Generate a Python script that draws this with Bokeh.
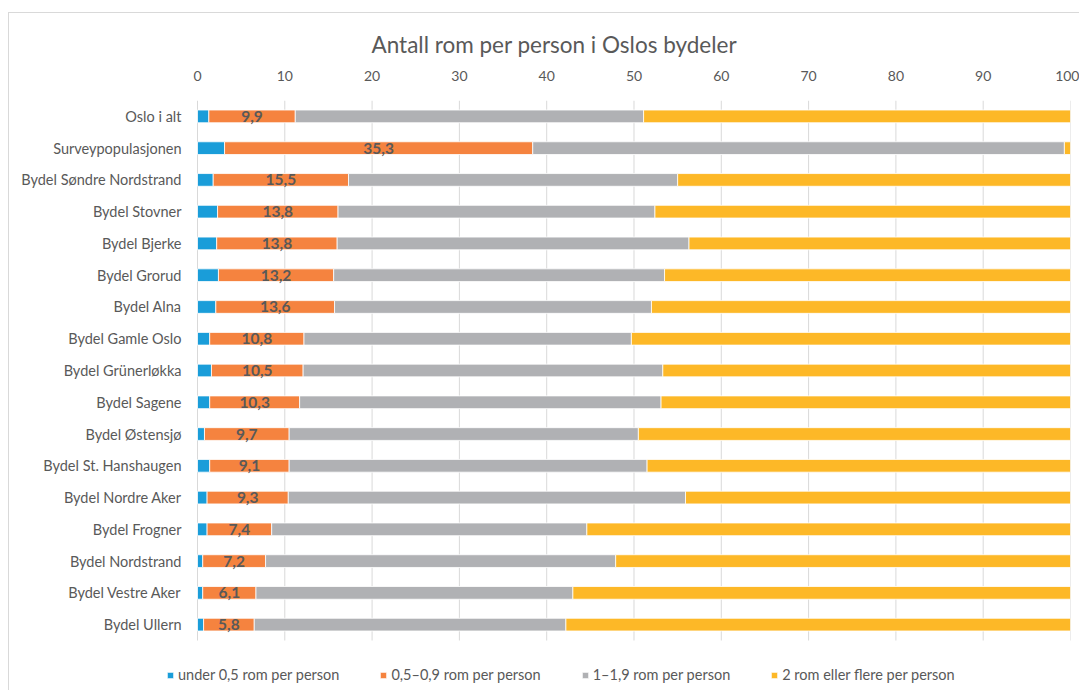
from bokeh.plotting import figure
from bokeh.models import ColumnDataSource, Range1d, Legend, LegendItem, LabelSet, FixedTicker
from bokeh.embed import file_html
from bokeh.resources import INLINE
from bokeh.core.properties import value

categories = ["Oslo i alt", "Surveypopulasjonen", "Bydel Søndre Nordstrand", "Bydel Stovner",
              "Bydel Bjerke", "Bydel Grorud", "Bydel Alna", "Bydel Gamle Oslo",
              "Bydel Grünerløkka", "Bydel Sagene", "Bydel Østensjø", "Bydel St. Hanshaugen",
              "Bydel Nordre Aker", "Bydel Frogner", "Bydel Nordstrand", "Bydel Vestre Aker",
              "Bydel Ullern"]
under_05 = [1.3, 3.1, 1.8, 2.3, 2.2, 2.4, 2.1, 1.4, 1.6, 1.4, 0.8, 1.4, 1.1, 1.1, 0.6, 0.6, 0.7]
r05_09 = [9.9, 35.3, 15.5, 13.8, 13.8, 13.2, 13.6, 10.8, 10.5, 10.3, 9.7, 9.1, 9.3, 7.4, 7.2, 6.1, 5.8]
r1_19 = [39.9, 60.9, 37.7, 36.3, 40.3, 37.9, 36.3, 37.5, 41.2, 41.4, 40.0, 41.0, 45.5, 36.1, 40.1, 36.3, 35.7]
r2_plus = [round(100 - a - b - c, 1) for a, b, c in zip(under_05, r05_09, r1_19)]
label_texts = [f"{v:.1f}".replace(".", ",") for v in r05_09]
series_names = ["under 0,5 rom per person", "0,5–0,9 rom per person", "1–1,9 rom per person", "2 rom eller flere per person"]
colors = ["#1A9DD9", "#F5833F", "#B0B1B4", "#FDB827"]
x_ticks = [0, 10, 20, 30, 40, 50, 60, 70, 80, 90, 100]

n = len(categories)
ypos = [n - 1 - i for i in range(n)]   # first category at the top

keys = ["s0", "s1", "s2", "s3"]
src = ColumnDataSource(dict(
    cat=categories, y=ypos, s0=under_05, s1=r05_09, s2=r1_19, s3=r2_plus,
    lx=[a + b / 2 for a, b in zip(under_05, r05_09)], lab=label_texts,
))

FONT = "Lato"
TXT = "#595959"

# frame extends left of 0 and below the last bar so the legend can live inside it
p = figure(width=1071, height=678, output_backend="svg", toolbar_location=None,
           x_range=Range1d(-4.81, 100), y_range=Range1d(-2.105, n - 0.5),
           x_axis_location="above", min_border_left=146, min_border_right=10,
           min_border_top=87, min_border_bottom=0)
p.styles = {"border-top": "1px solid #d9d9d9", "border-left": "1px solid #d9d9d9",
            "margin-left": "8px", "margin-top": "12px"}

# vertical gridlines spanning only the category band
p.segment(x0=x_ticks, x1=x_ticks, y0=[-0.5] * len(x_ticks), y1=[n - 0.5] * len(x_ticks),
          line_color="#d9d9d9", line_width=1)

renderers = p.hbar_stack(keys, y="y", height=0.4, color=colors, source=src,
                         line_color="white", line_width=0.8)

p.add_layout(LabelSet(x="lx", y="y", text="lab", source=src, text_align="center",
                      text_baseline="middle", text_font=value(FONT), text_font_style="bold",
                      text_font_size="15.5px", text_color=TXT))

p.title.text = "Antall rom per person i Oslos bydeler"
p.title.align = "left"
p.title.offset = 216
p.title.standoff = 19
p.title.text_font = FONT
p.title.text_font_size = "22.5px"
p.title.text_font_style = "normal"
p.title.text_color = TXT

xa = p.xaxis[0]
xa.ticker = FixedTicker(ticks=x_ticks)
xa.axis_line_color = None
xa.major_tick_line_color = None
xa.minor_tick_line_color = None
xa.major_label_standoff = 14
xa.major_label_text_font = FONT
xa.major_label_text_font_size = "14px"
xa.major_label_text_color = TXT

ya = p.yaxis[0]
ya.ticker = FixedTicker(ticks=ypos)
ya.major_label_overrides = {y: c for y, c in zip(ypos, categories)}
ya.axis_line_color = None
ya.major_tick_line_color = None
ya.minor_tick_line_color = None
ya.major_label_standoff = -32
ya.major_label_text_font = FONT
ya.major_label_text_font_size = "14.5px"
ya.major_label_text_color = TXT

p.xgrid.visible = False
p.ygrid.visible = False
p.outline_line_color = None

legend = Legend(items=[LegendItem(label=nm, renderers=[r]) for nm, r in zip(series_names, renderers)],
                orientation="horizontal", location=(11, 8), padding=0, margin=0,
                spacing=40, label_standoff=4, glyph_width=8, glyph_height=8,
                label_text_font=FONT, label_text_font_size="14.5px", label_text_color=TXT,
                border_line_color=None, background_fill_alpha=0)
p.add_layout(legend)

open("out.html", "w").write(file_html(p, INLINE))
